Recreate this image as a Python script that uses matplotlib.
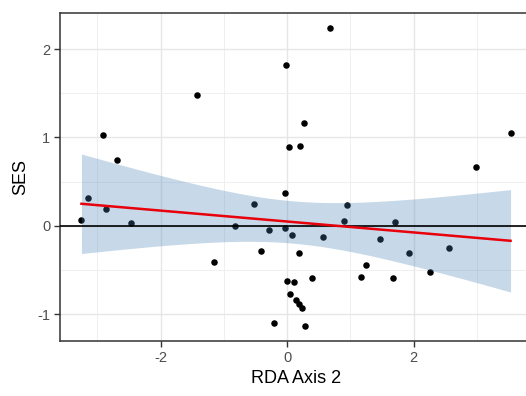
import numpy as np
import matplotlib
matplotlib.use("Agg")
import matplotlib.pyplot as plt

plt.rcParams['font.family'] = ['Liberation Sans', 'DejaVu Sans']
plt.rcParams['axes.unicode_minus'] = False

# RDA Axis 2 values and SES values
rda_axis2 = [-3.25, -3.15, -2.91, -2.86, -2.69, -2.46, -1.42, -1.16, -0.83, -0.53,
             -0.42, -0.28, -0.20, -0.04, -0.04, -0.02, 0.00, 0.03, 0.04, 0.07,
             0.11, 0.14, 0.18, 0.19, 0.21, 0.23, 0.27, 0.29, 0.39, 0.56,
             0.68, 0.90, 0.94, 1.16, 1.25, 1.47, 1.67, 1.70, 1.92, 2.26,
             2.55, 2.98, 3.53]
ses = [0.07, 0.32, 1.03, 0.19, 0.74, 0.03, 1.48, -0.41, 0.00, 0.25,
       -0.29, -0.045, -1.105, 0.375, -0.03, 1.82, -0.62, 0.89, -0.77, -0.10,
       -0.64, -0.84, -0.88, -0.31, 0.905, -0.93, 1.16, -1.135, -0.59, -0.13,
       2.24, 0.056, 0.23, -0.58, -0.44, -0.15, -0.59, 0.04, -0.31, -0.52,
       -0.25, 0.67, 1.045]

x_ticks = [-2, 0, 2]
y_ticks = [-1, 0, 1, 2]
x_label = "RDA Axis 2"
y_label = "SES"

x = np.array(rda_axis2)
y = np.array(ses)
n = len(x)

# linear model with 95% confidence band
b1, b0 = np.polyfit(x, y, 1)
resid = y - (b0 + b1 * x)
s = np.sqrt(np.sum(resid ** 2) / (n - 2))
t_crit = 2.017
xs = np.linspace(x.min(), x.max(), 80)
ys = b0 + b1 * xs
se = s * np.sqrt(1.0 / n + (xs - x.mean()) ** 2 / np.sum((x - x.mean()) ** 2))

fig = plt.figure(figsize=(5.26, 3.96), dpi=100)
ax = fig.add_axes([60 / 526, (396 - 341) / 396, (532 - 60) / 526, (341 - 13) / 396])

xr = x.max() - x.min()
yr = y.max() - y.min()
ax.set_xlim(x.min() - 0.05 * xr, x.max() + 0.05 * xr)
ax.set_ylim(y.min() - 0.05 * yr, y.max() + 0.05 * yr)

ax.set_xticks(x_ticks)
ax.set_yticks(y_ticks)
ax.set_xticks([-3, -1, 1, 3], minor=True)
ax.set_yticks([-0.5, 0.5, 1.5], minor=True)
ax.grid(True, which='major', color='#e6e6e6', linewidth=1.0, zorder=0)
ax.grid(True, which='minor', color='#ededed', linewidth=0.6, zorder=0)
ax.set_axisbelow(True)

ax.scatter(x, y, s=22, color='black', zorder=2, linewidths=0)
ax.fill_between(xs, ys - t_crit * se, ys + t_crit * se, color='steelblue',
                alpha=0.3, linewidth=0, zorder=3)
ax.axhline(0, color='black', linewidth=1.2, zorder=4)
ax.plot(xs, ys, color='#e8000b', linewidth=1.8, zorder=5)

for sp in ax.spines.values():
    sp.set_color('#333333')
    sp.set_linewidth(1.1)

ax.tick_params(which='major', length=4, width=1, color='#333333',
               labelcolor='#4d4d4d', labelsize=10.5, pad=3)
ax.tick_params(which='minor', length=0)

ax.set_xlabel(x_label, fontsize=13, color='black', labelpad=4)
ax.set_ylabel(y_label, fontsize=13, color='black')
ax.yaxis.set_label_coords((29 - 60) / 472, 0.5)

fig.savefig("out.png", dpi=100)
